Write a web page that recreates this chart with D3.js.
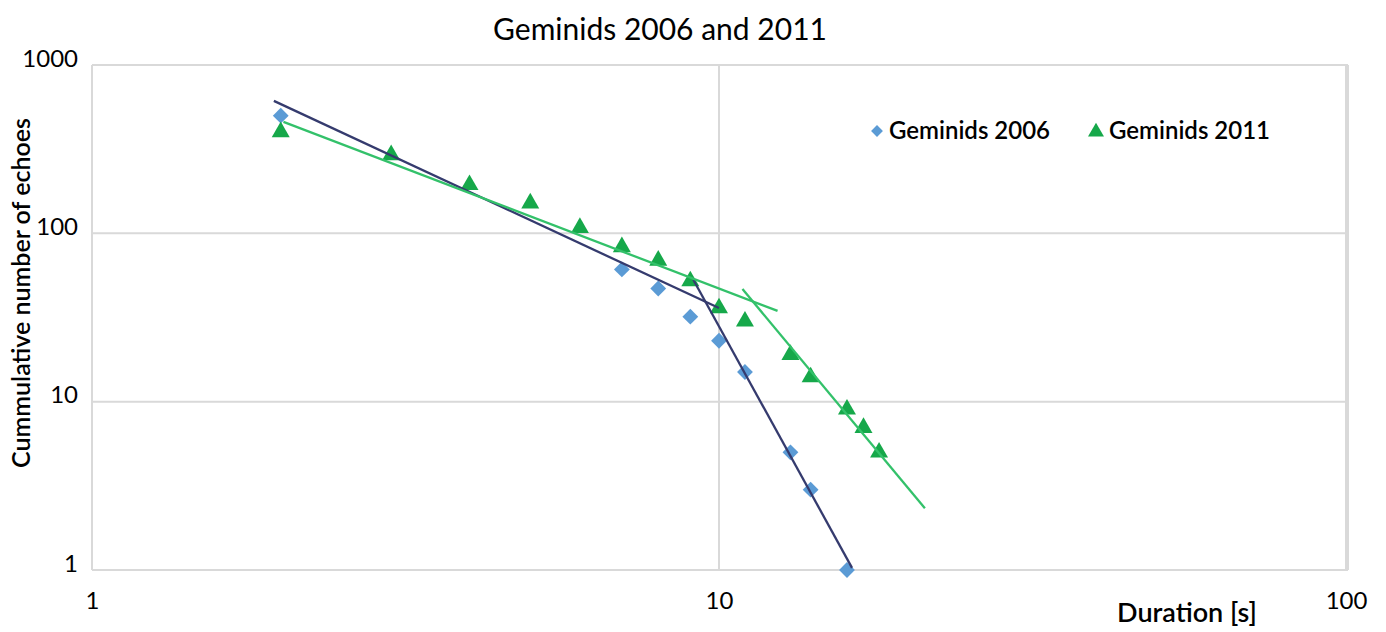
<!DOCTYPE html>
<html><head><meta charset="utf-8">
<script src="https://cdn.jsdelivr.net/npm/d3@7"></script>
<style>body{margin:0;background:#fff}svg{display:block}</style>
</head><body>
<svg id="c" width="1386" height="632"></svg>
<script>
// Data
const dur2006 = [2, 7, 8, 9, 10, 11, 13, 14, 16];
const echoes2006 = [500, 61, 47, 32, 23, 15, 5, 3, 1];
const dur2011 = [2, 3, 4, 5, 6, 7, 8, 9, 10, 11, 13, 14, 16, 17, 18];
const echoes2011 = [400, 292, 194, 151, 108, 83, 69, 52, 36, 30, 19, 14, 9, 7, 5];
// fitted trend segments [x0, y0, x1, y1]
const fit2006a = [1.95, 612, 10.0, 36];
const fit2006b = [9.1, 53, 16.3, 1.03];
const fit2011a = [2.02, 459, 12.4, 34.6];
const fit2011b = [10.9, 46.7, 21.3, 2.33];
const xTicks = [1, 10, 100];
const yTicks = [1, 10, 100, 1000];
const seriesNames = ["Geminids 2006", "Geminids 2011"];

const svg = d3.select("#c");
const font = "Lato, 'Open Sans', sans-serif";
const x = d3.scaleLog().domain([1, 100]).range([92, 1346]);
const y = d3.scaleLog().domain([1, 1000]).range([570, 65]);

// grid
const g = svg.append("g");
g.selectAll(".gy").data(yTicks).join("line")
  .attr("x1", 92).attr("x2", 1348).attr("y1", d => y(d)).attr("y2", d => y(d))
  .attr("stroke", "#d9d9d9").attr("stroke-width", 2);
g.selectAll(".gx").data(xTicks).join("line")
  .attr("x1", d => x(d)).attr("x2", d => x(d)).attr("y1", 65).attr("y2", 570)
  .attr("stroke", "#d9d9d9").attr("stroke-width", 2);
g.append("line").attr("x1", 1348).attr("x2", 1348).attr("y1", 65).attr("y2", 570)
  .attr("stroke", "#d9d9d9").attr("stroke-width", 2);

// axes labels via d3 axes (tick text only)
const yAxis = svg.append("g").attr("transform", "translate(78,0)")
  .call(d3.axisLeft(y).tickValues(yTicks).tickFormat(d3.format("d")).tickSize(0).tickPadding(0));
yAxis.select(".domain").remove();
yAxis.selectAll("text").attr("font-family", font).attr("font-size", 24).attr("fill", "#000")
  .attr("dy", "0.05em");

const xAxis = svg.append("g").attr("transform", "translate(0,592)")
  .call(d3.axisBottom(x).tickValues(xTicks).tickFormat(d3.format("d")).tickSize(0).tickPadding(0));
xAxis.select(".domain").remove();
xAxis.selectAll("text").attr("font-family", font).attr("font-size", 24).attr("fill", "#000");

// title
svg.append("text").attr("x", 660).attr("y", 40).attr("text-anchor", "middle")
  .attr("font-family", font).attr("font-size", 30).attr("fill", "#000").text("Geminids 2006 and 2011");
// axis titles
svg.append("text").attr("x", 1187).attr("y", 622).attr("text-anchor", "middle")
  .attr("font-family", font).attr("font-size", 27).attr("font-weight", 600).attr("fill", "#000").text("Duration [s]");
svg.append("text").attr("transform", "translate(30,293) rotate(-90)").attr("text-anchor", "middle")
  .attr("font-family", font).attr("font-size", 25).attr("font-weight", 600).attr("fill", "#000").text("Cummulative number of echoes");

// trend lines
const seg = (s, color) => svg.append("line")
  .attr("x1", x(s[0])).attr("y1", y(s[1])).attr("x2", x(s[2])).attr("y2", y(s[3]))
  .attr("stroke", color).attr("stroke-width", 2.3);

const blue = "#5b9bd5", green = "#16a84a", navy = "#353b6e", lgreen = "#33c16a";

// markers
const diamond = d3.symbol().type(d3.symbolSquare).size(125);
const tri = d3.symbol().type(d3.symbolTriangle).size(140);
const d2006 = dur2006.map((d, i) => [d, echoes2006[i]]);
const d2011 = dur2011.map((d, i) => [d, echoes2011[i]]);
svg.selectAll(".p6").data(d2006).join("path")
  .attr("d", diamond).attr("transform", d => `translate(${x(d[0])},${y(d[1])}) rotate(45)`)
  .attr("fill", blue);
svg.selectAll(".p11").data(d2011).join("path")
  .attr("d", tri).attr("transform", d => `translate(${x(d[0])},${y(d[1])})`)
  .attr("fill", green);

seg(fit2006a, navy); seg(fit2006b, navy);
seg(fit2011a, lgreen); seg(fit2011b, lgreen);

// legend
const lg = svg.append("g");
lg.append("path").attr("d", d3.symbol().type(d3.symbolSquare).size(70)).attr("transform", "translate(877,131) rotate(45)").attr("fill", blue);
lg.append("text").attr("x", 889).attr("y", 139).attr("font-family", font).attr("font-size", 24).attr("font-weight", 600).text(seriesNames[0]);
lg.append("path").attr("d", d3.symbol().type(d3.symbolTriangle).size(110)).attr("transform", "translate(1096,132)").attr("fill", green);
lg.append("text").attr("x", 1109).attr("y", 139).attr("font-family", font).attr("font-size", 24).attr("font-weight", 600).text(seriesNames[1]);
</script>
</body></html>
